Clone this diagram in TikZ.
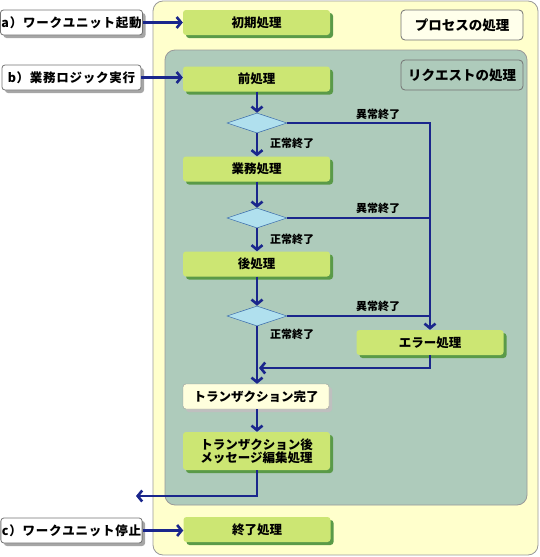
\documentclass[tikz,border=0pt]{standalone}
\usepackage{fontspec}
\setmainfont{Noto Sans CJK JP}
\usetikzlibrary{arrows.meta,shapes.geometric,shadows}
\definecolor{outerfill}{HTML}{FFFFCC}
\definecolor{innerfill}{HTML}{AECBBB}
\definecolor{frame}{HTML}{999999}
\definecolor{boxgreen}{HTML}{CCE673}
\definecolor{shadowgreen}{HTML}{5A9A48}
\definecolor{navy}{HTML}{1A268C}
\definecolor{dia}{HTML}{B0E0EE}
\definecolor{diaedge}{HTML}{3A6AAA}
\definecolor{donefill}{HTML}{FFFFDD}
\tikzset{
  proc/.style={rectangle, rounded corners=3pt, fill=boxgreen, minimum width=147pt, minimum height=25pt, inner sep=1pt,
    font=\bfseries\fontsize{12.5}{15}\selectfont, align=center,
    drop shadow={shadow xshift=3pt, shadow yshift=-3pt, fill=shadowgreen, opacity=1}},
  donebox/.style={rectangle, rounded corners=3pt, fill=donefill, draw=frame, minimum width=146pt, minimum height=25pt,
    font=\bfseries\fontsize{12.5}{15}\selectfont,
    drop shadow={shadow xshift=3pt, shadow yshift=-3pt, fill=black!25, opacity=1}},
  lbl/.style={rectangle, rounded corners=3pt, fill=white, draw=black!55, line width=0.8pt, minimum width=139pt, minimum height=25pt,
    inner sep=1pt, font=\bfseries\fontsize{12.5}{15}\selectfont\addfontfeature{LetterSpace=6},
    drop shadow={shadow xshift=3pt, shadow yshift=-3pt, fill=black!35, opacity=1}},
  tag/.style={rectangle, rounded corners=4pt, draw=black!55, line width=0.8pt, minimum width=122pt, minimum height=30pt,
    font=\bfseries\fontsize{13.5}{16}\selectfont},
  decision/.style={diamond, fill=dia, draw=diaedge, line width=0.5pt, minimum width=60pt, minimum height=20pt, inner sep=0pt},
  flow/.style={draw=navy, line width=2.8pt, -{Straight Barb[length=4.5pt,width=11pt,line width=2.6pt]}},
  line/.style={draw=navy, line width=2.8pt},
  note/.style={font=\bfseries\fontsize{11}{13}\selectfont, inner sep=1pt}
}
\begin{document}
\begin{tikzpicture}[x=1pt,y=-1pt]
\useasboundingbox (0,0) rectangle (539,557);
% containers
\draw[frame, fill=outerfill, rounded corners=10pt, line width=0.8pt] (153,1) rectangle (538,555);
\draw[frame, fill=innerfill, rounded corners=10pt, line width=0.8pt] (165,50) rectangle (527,505);
\node[tag, fill=white!60!outerfill] (ptag) at (462,25) {プロセスの処理};
\node[tag, fill=innerfill] (rtag) at (462,75) {リクエストの処理};
% left labels
\node[lbl] (la) at (71.5,22.5) {a）ワークユニット起動};
\node[lbl] (lb) at (71.5,77.5) {b）業務ロジック実行};
\node[lbl] (lc) at (71.5,530.5) {c）ワークユニット停止};
% processes
\node[proc] (init) at (256.5,22.5) {初期処理};
\node[proc] (pre) at (256.5,79) {前処理};
\node[decision] (d1) at (257,123) {};
\node[proc] (biz) at (256.5,169) {業務処理};
\node[decision] (d2) at (257,218) {};
\node[proc] (post) at (256.5,264) {後処理};
\node[decision] (d3) at (257,316) {};
\node[proc] (err) at (430,342.5) {エラー処理};
\node[donebox] (done) at (256,396.5) {トランザクション完了};
\node[proc, minimum height=38pt] (msg) at (256.5,451) {トランザクション後\\[-2pt]メッセージ編集処理};
\node[proc] (fin) at (257,529.5) {終了処理};
\coordinate (ret) at (259,368);
\coordinate (exitend) at (136,496);
% connectors
\draw[flow] (la.east) -- (init.west);
\draw[flow] (lb.east) -- (pre.west |- lb.east);
\draw[flow] (lc.east) -- (fin.west |- lc.east);
\draw[flow] (pre.south -| d1.north) -- (d1.north);
\draw[flow] (d1.south) -- (biz.north -| d1.south);
\draw[flow] (biz.south -| d1.south) -- (d2.north);
\draw[flow] (d2.south) -- (post.north -| d2.south);
\draw[flow] (post.south -| d2.south) -- (d3.north);
\draw[flow] (d3.south) -- (done.north -| d3.south);
\draw[flow] (done.south -| d3.south) -- (msg.north -| d3.south);
\draw[flow] (d1.east) -| (err.north);
\draw[line] (d2.east) -- (d2.east -| err.north);
\draw[line] (d3.east) -- (d3.east -| err.north);
\draw[flow] (err.south) |- (ret);
\draw[flow] (msg.south -| d3.south) |- (exitend);
% labels
\node[note] (n1) at (378,114) {異常終了};
\node[note] (n2) at (378,208) {異常終了};
\node[note] (n3) at (378,306) {異常終了};
\node[note, anchor=west] (s1) at (269,143) {正常終了};
\node[note, anchor=west] (s2) at (269,239) {正常終了};
\node[note, anchor=west] (s3) at (269,334) {正常終了};
\end{tikzpicture}
\end{document}
